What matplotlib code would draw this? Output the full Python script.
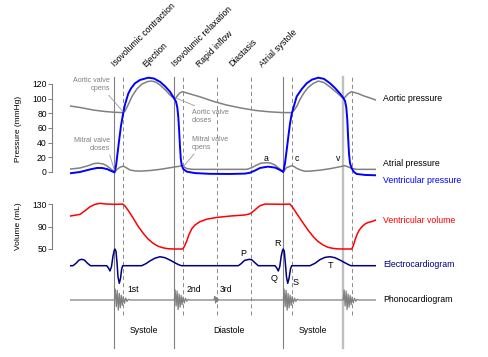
import numpy as np
import matplotlib
matplotlib.use("Agg")
import matplotlib.pyplot as plt

plt.rcParams['font.family'] = ['Liberation Sans', 'DejaVu Sans']
plt.rcParams['lines.scale_dashes'] = False

# Время в секундах, один сердечный цикл ~0.845 с
T_END = 1.53

# Давление в аорте (t, мм рт. ст.)
aortic = [(0.000, 90), (0.050, 88), (0.1165, 84.5), (0.175, 82.5), (0.2225, 81.4),
          (0.2665, 81), (0.275, 83), (0.2915, 92), (0.31, 103), (0.3335, 113),
          (0.36, 120), (0.39, 123.5), (0.41, 124), (0.43, 122.5), (0.45, 118.6),
          (0.48, 111), (0.50, 105), (0.5215, 100), (0.53, 101.5), (0.54, 105),
          (0.55, 108), (0.5625, 109.5), (0.60, 106.5), (0.65, 102.5), (0.715, 96.5),
          (0.78, 91.5), (0.85, 87.5), (0.925, 84), (1.00, 82), (1.0665, 81),
          (1.1085, 81), (1.12, 84), (1.135, 90), (1.15, 99), (1.17, 108),
          (1.19, 115), (1.215, 120.5), (1.2415, 124), (1.27, 122), (1.30, 116),
          (1.335, 108), (1.3665, 100.5), (1.375, 102), (1.39, 106.5), (1.4075, 109.5),
          (1.44, 107), (1.4665, 104), (1.50, 101), (1.53, 98)]

# Давление в желудочке
ventricular = [(0.000, -1.8), (0.05, 0), (0.10, 3.5), (0.135, 5.5), (0.16, 5.5),
               (0.185, 4), (0.205, 1.5), (0.2225, -0.5), (0.23, 8), (0.2375, 25),
               (0.245, 42), (0.255, 63), (0.2665, 81), (0.275, 92), (0.2915, 107),
               (0.305, 114), (0.325, 121), (0.35, 125.5), (0.3915, 128.6), (0.42, 127.5),
               (0.45, 123), (0.475, 117), (0.50, 109.5), (0.5215, 100), (0.53, 96),
               (0.5365, 88), (0.5415, 75), (0.546, 55), (0.55, 34), (0.554, 18),
               (0.5585, 9.5), (0.5665, 4), (0.5835, 0.5), (0.625, -1.5), (0.70, -2.5),
               (0.80, -2.7), (0.875, -2.2), (0.90, -1), (0.925, 2), (0.95, 5.5),
               (0.99, 7.3), (1.025, 6), (1.045, 3.5), (1.0665, 0), (1.075, 12),
               (1.0835, 30), (1.0925, 50), (1.10, 66), (1.1085, 79), (1.1165, 87),
               (1.1335, 103), (1.1585, 113), (1.1835, 121), (1.21, 126), (1.2415, 128.6),
               (1.27, 127), (1.30, 121), (1.325, 114.5), (1.35, 107), (1.3665, 101),
               (1.375, 97), (1.3815, 88), (1.3865, 71), (1.391, 45), (1.395, 25),
               (1.40, 12), (1.4085, 5), (1.42, 0), (1.4335, -2.7), (1.475, -4), (1.53, -4.5)]

# Давление в предсердии
atrial = [(0.00, 4), (0.05, 5.5), (0.09, 8.5), (0.12, 11.5), (0.1415, 12), (0.165, 11),
          (0.1835, 8.6), (0.205, 4), (0.2225, 0), (0.235, 3.5), (0.25, 6.5), (0.2665, 8),
          (0.28, 6), (0.30, 2.7), (0.325, 1.5), (0.35, 1.2), (0.40, 2), (0.45, 3.6),
          (0.50, 5.8), (0.55, 8), (0.5625, 8.8), (0.5725, 6.5), (0.585, 4.5), (0.6165, 3.6),
          (0.8835, 3.6), (0.91, 6), (0.9335, 9.5), (0.955, 12), (0.9835, 12.7), (1.005, 12),
          (1.025, 9.5), (1.045, 5), (1.0665, 0.4), (1.0835, 6), (1.1085, 8.5), (1.12, 7.5),
          (1.1335, 5), (1.155, 2.5), (1.175, 1), (1.20, 1.2), (1.25, 2.5), (1.30, 4.5),
          (1.35, 7.2), (1.375, 8.6), (1.39, 7), (1.4085, 5), (1.4335, 3.6), (1.53, 3.6)]

# Объём желудочка (мл)
volume = [(0.00, 109), (0.05, 112), (0.075, 118.5), (0.10, 125.7), (0.125, 130),
          (0.15, 131.8), (0.1835, 130.5), (0.225, 130), (0.2635, 130.5), (0.275, 127),
          (0.295, 117), (0.3165, 105), (0.34, 91), (0.3665, 78), (0.39, 68),
          (0.4165, 60), (0.44, 55), (0.4665, 52), (0.49, 50.5), (0.5165, 50),
          (0.5635, 50), (0.5725, 55), (0.5835, 64), (0.595, 76), (0.6085, 86),
          (0.625, 93), (0.65, 99), (0.685, 103.5), (0.7335, 106.5), (0.80, 109),
          (0.875, 111), (0.90, 113), (0.915, 117), (0.9335, 122.8), (0.95, 127.5),
          (0.975, 130.5), (1.025, 130.3), (1.0665, 130), (1.10, 130.5), (1.1165, 122.8),
          (1.14, 110), (1.1665, 96), (1.19, 84), (1.2165, 72), (1.24, 63.5),
          (1.2665, 57), (1.29, 53), (1.3165, 51), (1.34, 50.2), (1.3635, 50),
          (1.4085, 50), (1.4165, 56), (1.425, 66), (1.435, 76), (1.4465, 84),
          (1.46, 90), (1.475, 94.7), (1.49, 97.5), (1.5085, 99), (1.53, 102)]

# ЭКГ (мВ)
ecg = [(0.00, 0), (0.015, 0), (0.03, 0.15), (0.045, 0.35), (0.0585, 0.4), (0.0725, 0.35),
       (0.0875, 0.15), (0.1025, 0), (0.1835, 0), (0.1925, -0.15), (0.20, -0.33),
       (0.2075, -0.05), (0.215, 0.6), (0.221, 0.95), (0.225, 1.04), (0.23, 0.9),
       (0.235, 0.2), (0.24, -0.7), (0.2465, -1.1), (0.2525, -0.8), (0.2585, -0.2),
       (0.2635, 0), (0.3585, 0), (0.38, 0.13), (0.40, 0.3), (0.425, 0.47), (0.45, 0.56),
       (0.475, 0.5), (0.50, 0.35), (0.525, 0.18), (0.545, 0.05), (0.5585, 0),
       (0.8415, 0), (0.855, 0.12), (0.8725, 0.33), (0.8965, 0.4), (0.91, 0.36),
       (0.925, 0.18), (0.9415, 0), (1.025, 0), (1.034, -0.15), (1.0415, -0.33),
       (1.049, -0.05), (1.056, 0.6), (1.0625, 0.95), (1.0665, 1.04), (1.0715, 0.9),
       (1.0765, 0.2), (1.0825, -0.7), (1.0885, -1.1), (1.095, -0.8), (1.1025, -0.2),
       (1.1085, 0), (1.20, 0), (1.225, 0.15), (1.25, 0.38), (1.275, 0.52), (1.30, 0.56),
       (1.325, 0.5), (1.35, 0.35), (1.375, 0.18), (1.395, 0.05), (1.405, 0), (1.53, 0)]

# Фонокардиограмма (усл. ед.)
phono = [(0.0, 0),
         (0.2225, 0), (0.2265, 0.9), (0.2315, -0.55), (0.2365, 0.8), (0.2415, -0.85),
         (0.2465, 0.55), (0.2515, -0.65), (0.2565, 0.4), (0.2615, -0.45), (0.2665, 0.28),
         (0.2725, -0.28), (0.2785, 0.16), (0.285, -0.12), (0.2915, 0.06), (0.30, 0),
         (0.5215, 0), (0.5255, 0.85), (0.5305, -0.5), (0.5355, 0.75), (0.5405, -0.8),
         (0.5455, 0.5), (0.5505, -0.6), (0.5555, 0.38), (0.5605, -0.4), (0.5655, 0.25),
         (0.5715, -0.25), (0.5775, 0.15), (0.584, -0.1), (0.5905, 0.05), (0.599, 0),
         (0.72, 0), (0.724, 0.3), (0.728, -0.25), (0.732, 0.2), (0.736, -0.15),
         (0.741, 0.06), (0.746, 0),
         (1.0665, 0), (1.0705, 0.9), (1.0755, -0.55), (1.0805, 0.8), (1.0855, -0.85),
         (1.0905, 0.55), (1.0955, -0.65), (1.1005, 0.4), (1.1055, -0.45), (1.1105, 0.28),
         (1.1165, -0.28), (1.1225, 0.16), (1.129, -0.12), (1.1355, 0.06), (1.144, 0),
         (1.3665, 0), (1.3705, 0.85), (1.3755, -0.5), (1.3805, 0.75), (1.3855, -0.8),
         (1.3905, 0.5), (1.3955, -0.6), (1.4005, 0.38), (1.4055, -0.4), (1.4105, 0.25),
         (1.4165, -0.25), (1.4225, 0.15), (1.429, -0.1), (1.4355, 0.05), (1.444, 0),
         (1.53, 0)]

# События цикла (с)
solid_events = [0.2225, 0.5215, 1.0665]
light_events = [1.3665]
dashed_events = [0.2665, 0.5625, 0.7325, 0.9025, 1.1085, 1.4075]

phase_names = ['Isovolumic contraction', 'Ejection', 'Isovolumic relaxation',
               'Rapid inflow', 'Diastasis', 'Atrial systole']
phase_x = [0.225, 0.3775, 0.525, 0.6465, 0.81, 0.965]

pressure_ticks = [0, 20, 40, 60, 80, 100, 120]
volume_ticks = [50, 90, 130]

GRAY = '#808080'
FIG_W, FIG_H = 489, 357
X0, X1 = 70, 376  # пиксели по горизонтали для оси времени


def add_band(py_top, py_bot, ylim):
    """Ось на полосе фигуры, заданной пикселями сверху"""
    ax = fig.add_axes([X0 / FIG_W, 1 - py_bot / FIG_H,
                       (X1 - X0) / FIG_W, (py_bot - py_top) / FIG_H])
    ax.set_xlim(0, T_END)
    ax.set_ylim(*ylim)
    ax.patch.set_alpha(0)
    for s in ax.spines.values():
        s.set_visible(False)
    ax.set_xticks([])
    ax.set_yticks([])
    return ax


def style_left(ax, ticks):
    sp = ax.spines['left']
    sp.set_visible(True)
    sp.set_position(('outward', 12.7))
    sp.set_bounds(ticks[0], ticks[-1])
    sp.set_color(GRAY)
    sp.set_linewidth(0.8)
    ax.set_yticks(ticks)
    ax.tick_params(axis='y', length=3, width=0.7, color=GRAY,
                   labelsize=6.2, pad=1)


def xy(data):
    arr = np.array(data, dtype=float)
    return arr[:, 0], arr[:, 1]


fig = plt.figure(figsize=(FIG_W / 100, FIG_H / 100), dpi=100)

# Слой с вертикальными линиями и подписями
ax_ev = fig.add_axes([X0 / FIG_W, 0, (X1 - X0) / FIG_W, 1])
ax_ev.set_xlim(0, T_END)
ax_ev.set_ylim(0, 1)
ax_ev.axis('off')

for t in solid_events:
    ax_ev.axvline(t, ymin=0.024, ymax=0.784, color=GRAY, lw=0.8)
for t in light_events:
    ax_ev.axvline(t, ymin=0.024, ymax=0.784, color='#c0c0c0', lw=1.7)
for t in dashed_events:
    ax_ev.axvline(t, ymin=0.118, ymax=0.784, color='#8a8a8a', lw=0.7,
                  linestyle=(0, (2.9, 2.2)))

for name, x in zip(phase_names, phase_x):
    ax_ev.text(x, 0.812, name, rotation=45, rotation_mode='anchor',
               ha='left', va='baseline', fontsize=6.2)

# Систола / диастола по серединам интервалов
bounds = solid_events + light_events
for name, a, b in zip(['Systole', 'Diastole', 'Systole'], bounds[:-1], bounds[1:]):
    ax_ev.text((a + b) / 2, 0.0756, name, ha='center', va='center', fontsize=6.2)

for name, x in zip(['1st', '2nd', '3rd'], [0.285, 0.5835, 0.7465]):
    ax_ev.text(x, 0.1877, name, ha='left', va='center', fontsize=6.2)

right_labels = [('Aortic pressure', 0.7235, 'black'),
                ('Atrial pressure', 0.5415, 'black'),
                ('Ventricular pressure', 0.4944, 'blue'),
                ('Ventricular volume', 0.3818, 'red'),
                ('Electrocardiogram', 0.2597, '#000080'),
                ('Phonocardiogram', 0.1616, 'black')]
for name, y, c in right_labels:
    ax_ev.text(1.5665, y, name, ha='left', va='center', fontsize=6.3, color=c)

ax_ev.text(-0.2585, 0.6387, 'Pressure (mmHg)', rotation=90, ha='center',
           va='center', fontsize=6.0)
ax_ev.text(-0.2585, 0.367, 'Volume (mL)', rotation=90, ha='center',
           va='center', fontsize=6.0)

# Давление
ax_p = add_band(73.0, 179.33, (-10, 135))
style_left(ax_p, pressure_ticks)
t, v = xy(aortic)
ax_p.plot(t, v, color=GRAY, lw=1.1)
t, v = xy(atrial)
ax_p.plot(t, v, color=GRAY, lw=1.1)
t, v = xy(ventricular)
ax_p.plot(t, v, color='blue', lw=1.4)

for lab, x in zip(['a', 'c', 'v'], [0.979, 1.135, 1.3415]):
    ax_p.text(x, 18.7, lab, ha='center', va='center', fontsize=6.3)

note = dict(fontsize=5.1, color=GRAY, linespacing=1.3, va='center')
line = dict(arrowstyle='-', color='#9a9a9a', lw=0.6, shrinkA=0, shrinkB=0)
ax_p.annotate('Aortic valve\nopens', xy=(0.266, 82), xytext=(0.20, 119),
              ha='right', arrowprops=dict(line, relpos=(0.9, 0)), **note)
ax_p.annotate('Mitral valve\ncloses', xy=(0.222, 2.5), xytext=(0.20, 37.5),
              ha='right', arrowprops=dict(line, relpos=(0.97, 0)), **note)
ax_p.annotate('Aortic valve\ncloses', xy=(0.5275, 101), xytext=(0.6085, 76),
              ha='left', arrowprops=dict(line, relpos=(0.27, 1)), **note)
ax_p.annotate('Mitral valve\nopens', xy=(0.5665, 7.2), xytext=(0.61, 39),
              ha='left', arrowprops=dict(line, relpos=(0.12, 0)), **note)

# Объём
ax_v = add_band(198.75, 254.58, (40, 140))
style_left(ax_v, volume_ticks)
t, v = xy(volume)
ax_v.plot(t, v, color='red', lw=1.1)

# ЭКГ
ax_e = add_band(241.7, 289.7, (-1.5, 1.5))
t, v = xy(ecg)
ax_e.plot(t, v, color='#000080', lw=1.1)
for lab, x, y in [('P', 0.865, 0.79), ('R', 1.0375, 1.4), ('Q', 1.02, -0.77),
                  ('S', 1.1275, -1.04), ('T', 1.3015, 0.01)]:
    ax_e.text(x, y, lab, ha='center', va='center', fontsize=6.5)

# Фонокардиограмма
ax_s = add_band(288.0, 312.0, (-1, 1))
t, v = xy(phono)
ax_s.plot(t, v, color=GRAY, lw=0.9)

fig.savefig('out.png', dpi=100)
